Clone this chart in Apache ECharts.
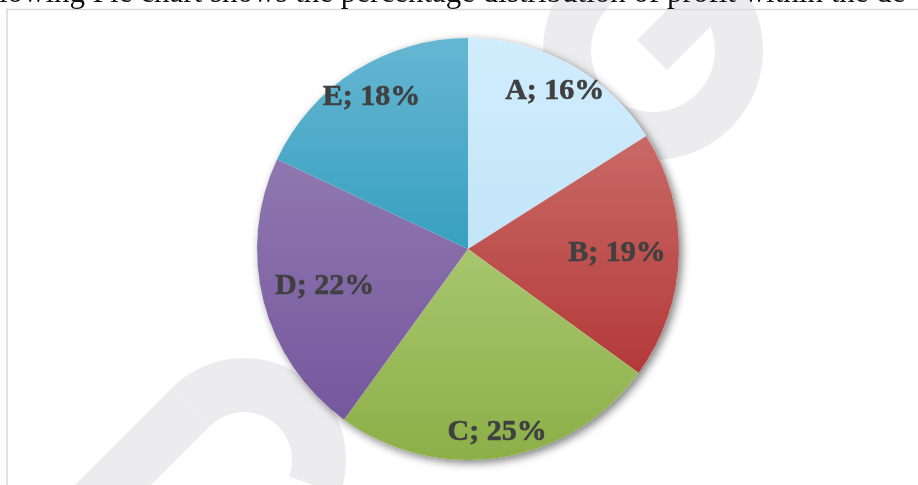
<!DOCTYPE html>
<html>
<head>
<meta charset="utf-8">
<script src="https://cdn.jsdelivr.net/npm/echarts@6/dist/echarts.min.js"></script>
<style>
  html, body { margin: 0; padding: 0; background: #ffffff; }
  #chart { width: 918px; height: 485px; }
</style>
</head>
<body>
<div id="chart"></div>
<script>
// ---- data ----
const categories = ['A', 'B', 'C', 'D', 'E'];
const values = [16, 19, 25, 22, 18];
const headingText = 'lowing Pie chart shows the percentage distribution of profit within the de';

// ---- styles / layout ----
const colorTop = ['#D0EDFD', '#C96A66', '#A8C66E', '#8F78B0', '#66B6D2'];
const colorBottom = ['#C3E5F8', '#B3393A', '#8CAF48', '#75579D', '#37A0C0'];
const labelRadius = [177, 146, 183, 145, 177];
const pieCenter = [468, 249];
const pieR = 211;
const wmColor = '#ECECEE';

const chart = echarts.init(document.getElementById('chart'), null, { renderer: 'canvas' });

const pieData = categories.map((c, i) => ({
  name: c,
  value: values[i],
  itemStyle: {
    color: new echarts.graphic.LinearGradient(0, 0, 0, 1, [
      { offset: 0, color: colorTop[i] },
      { offset: 1, color: colorBottom[i] }
    ])
  }
}));

const labelSeries = categories.map((c, i) => ({
  type: 'pie',
  silent: true,
  z: 5,
  center: pieCenter,
  radius: [labelRadius[i] - 1, labelRadius[i] + 1],
  startAngle: 90,
  clockwise: true,
  animation: false,
  itemStyle: { color: 'rgba(0,0,0,0)', borderWidth: 0 },
  labelLine: { show: false },
  emphasis: { disabled: true },
  data: categories.map((cc, j) => ({
    name: cc,
    value: values[j],
    label: { show: j === i }
  })),
  label: {
    position: 'inside',
    formatter: '{b}; {c}%',
    color: '#404040',
    fontFamily: '"Liberation Serif", serif',
    fontWeight: 'bold',
    fontSize: 30,
    textBorderColor: '#404040',
    textBorderWidth: 0.6
  }
}));

const option = {
  backgroundColor: '#ffffff',
  animation: false,
  graphic: [
    // watermark (decorative)
    { type: 'ring', z: 0, shape: { cx: 653, cy: 50, r: 110, r0: 62 }, style: { fill: wmColor } },
    { type: 'polygon', z: 0, shape: { points: [[637, 40], [667, 70], [738, -1], [708, -31]] }, style: { fill: wmColor } },
    { type: 'sector', z: 0, shape: { cx: 244, cy: 460, r: 102, r0: 48, startAngle: -Math.PI * 3 / 4, endAngle: Math.PI / 9, clockwise: true }, style: { fill: wmColor } },
    { type: 'polygon', z: 0, shape: { points: [[172, 388], [210, 426], [144, 492], [66, 494]] }, style: { fill: wmColor } },
    // chart frame
    { type: 'rect', z: 1, shape: { x: 7, y: 9.5, width: 1000, height: 1000 }, style: { fill: 'none', stroke: '#D9D9D9', lineWidth: 1.5 } },
    // heading text (partially cropped)
    { type: 'text', z: 1, x: -1, y: -6, style: { text: headingText, font: '31px "Liberation Serif", serif', fill: '#111111', verticalAlign: 'middle', align: 'left' } }
  ],
  series: [
    {
      type: 'pie',
      silent: true,
      z: 1,
      center: pieCenter,
      radius: pieR,
      animation: false,
      label: { show: false },
      labelLine: { show: false },
      itemStyle: {
        color: '#ffffff',
        shadowBlur: 9,
        shadowOffsetX: 3,
        shadowOffsetY: 3,
        shadowColor: 'rgba(0,0,0,0.5)'
      },
      data: [{ name: 'shadow', value: values.reduce((a, b) => a + b, 0) }]
    },
    {
      type: 'pie',
      z: 3,
      center: pieCenter,
      radius: pieR,
      startAngle: 90,
      clockwise: true,
      animation: false,
      label: { show: false },
      labelLine: { show: false },
      itemStyle: { borderWidth: 0 },
      emphasis: { disabled: true },
      data: pieData
    }
  ].concat(labelSeries)
};

chart.setOption(option);
</script>
</body>
</html>
